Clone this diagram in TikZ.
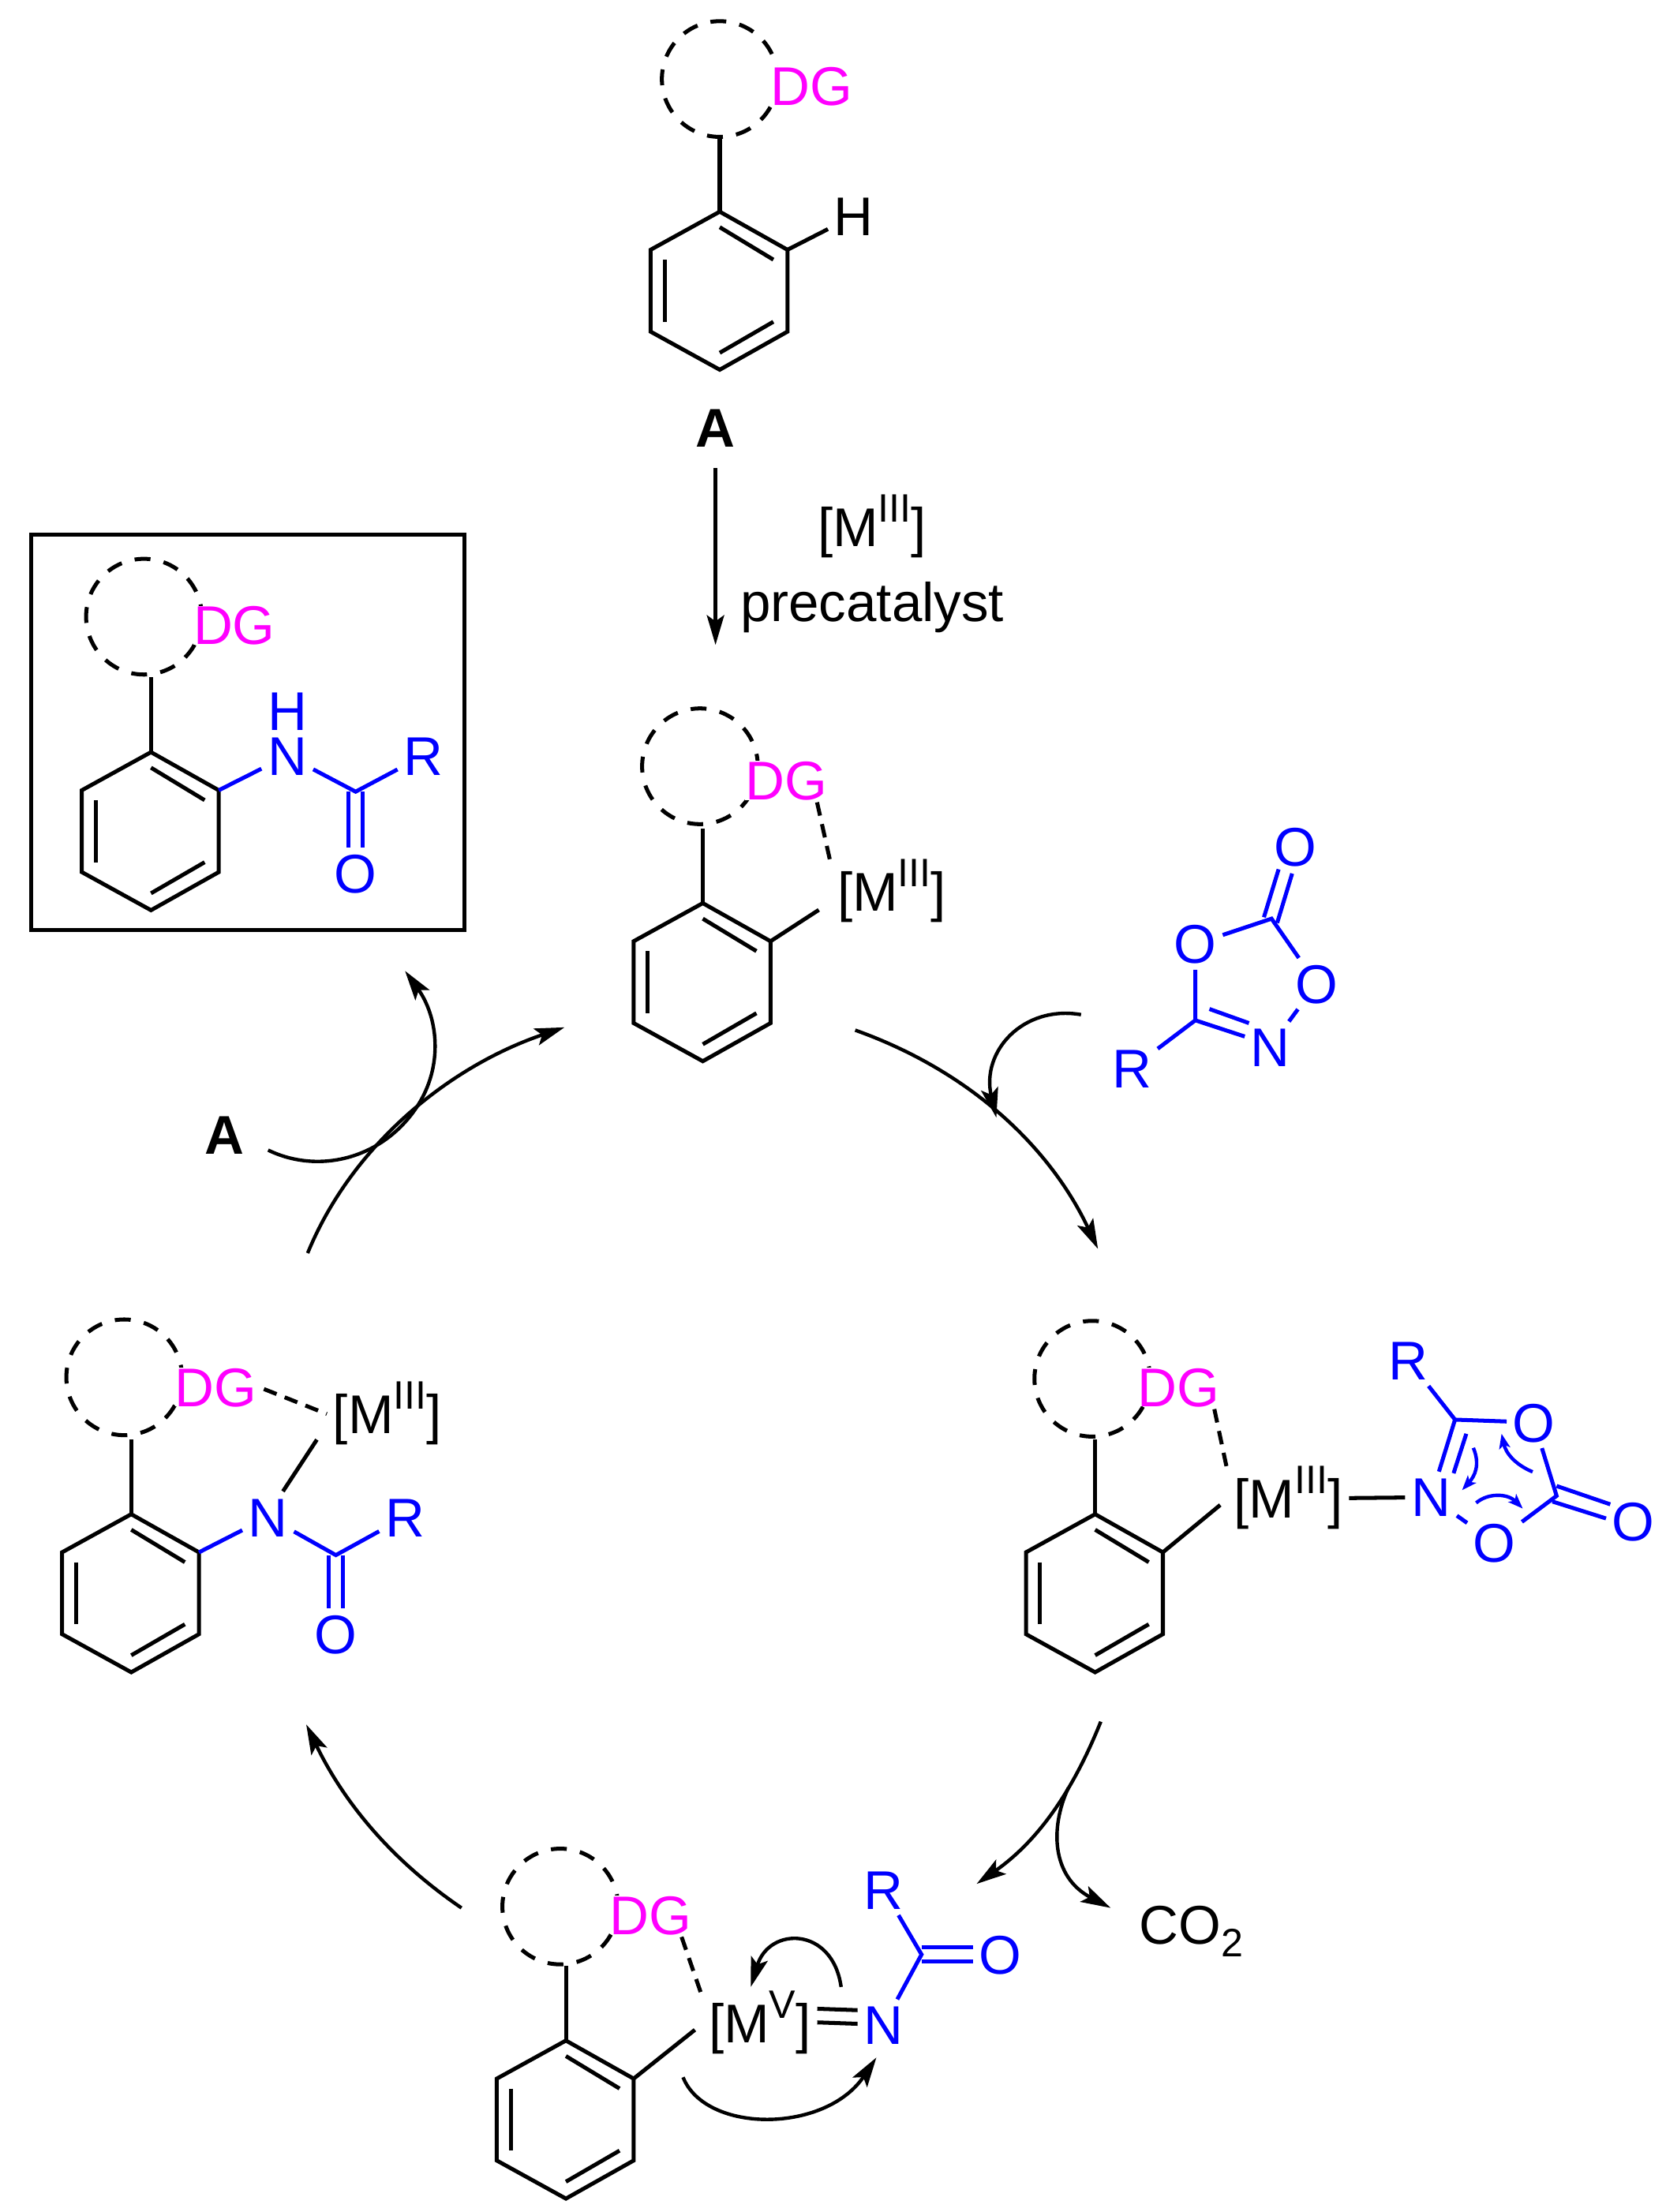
\documentclass[tikz,border=0pt]{standalone}
\usepackage{fontspec}
\setmainfont{Liberation Sans}
\usetikzlibrary{arrows.meta}
\definecolor{reagent}{HTML}{0000FF}
\definecolor{dgpink}{HTML}{FF00FF}
\newcommand{\metal}[1]{[M\raisebox{10pt}[0pt][0pt]{\fontsize{16}{16}\selectfont #1}]}

\begin{document}
\begin{tikzpicture}[
  x=0.02cm, y=-0.02cm,
  every node/.style={font=\fontsize{22}{24}\selectfont},
  bond/.style={line width=1.6pt, line join=miter},
  bluebond/.style={bond, reagent},
  dashbond/.style={bond, dash pattern=on 5.5pt off 3.5pt},
  ringline/.style={line width=1.6pt, dash pattern=on 6.4pt off 5.4pt},
  atom/.style={inner sep=1pt, outer sep=1.5pt, text height=15.7pt, text depth=0pt},
  blueatom/.style={atom, text=reagent},
  dg/.style={atom, text=dgpink, fill=white, inner sep=0pt, outer sep=1pt},
  arr/.style={-{Stealth[length=12pt, width=7pt, inset=2.5pt]}, line width=1.4pt},
  smallarr/.style={-{Stealth[length=6pt, width=4.5pt, inset=1.5pt]}, line width=1.4pt, reagent},
  arene/.pic={
    \coordinate (-ur) at (48,27);
    \draw[bond] (0,0) -- (48,27) -- (48,85) -- (0,112) -- (-49,85) -- (-49,27) -- cycle;
    \draw[bond] (0,11) -- (38,34);
    \draw[bond] (38,78) -- (0,100);
    \draw[bond] (-39,34) -- (-39,78);
    \draw[bond] (0,0) -- (0,-53);
    \draw[ringline] (#1) circle[radius=41];
  }
]
  \useasboundingbox (0,0) rectangle (1180,1567.5);

  % the six arenes
  \pic (molA) at (510,150) {arene={0,-94}};
  \pic (molCat) at (498,640) {arene={-2,-97}};
  \pic (molRight) at (776,1073) {arene={-2,-96}};
  \pic (molBottom) at (401,1446) {arene={-4,-95}};
  \pic (molLeft) at (93,1073) {arene={-5,-97}};
  \pic (molBox) at (107,533) {arene={-5,-96}};
  \node[dg] (topDG) at (575,61) {DG};
  \node[dg] (catDG) at (557,553) {DG};
  \node[dg] (rightDG) at (835,983) {DG};
  \node[dg] (bottomDG) at (461,1357) {DG};
  \node[dg] (leftDG) at (153,983) {DG};
  \node[dg] (boxDG) at (166,443) {DG};

  % substrate
  \node[atom] (topH) at (605,153) {H};
  \draw[bond] (molA-ur) -- (topH);
  \node[atom, font=\fontsize{22}{24}\selectfont\bfseries] (labelA) at (507,303) {A};
  \coordinate (preEnd) at (507,457);
  \draw[arr, shorten <=6pt] (labelA) -- (preEnd);
  \node[atom] (preM) at (618,373.5) {\metal{III}};
  \node[anchor=base, inner sep=0pt] (preText) at (618,440.5) {precatalyst};

  % product in the frame
  \draw[line width=1.5pt] (22,379) rectangle (329,659);
  \node[blueatom, inner sep=0pt, outer sep=2.5pt] (boxN) at (203.6,535.5) {N};
  \node[blueatom, inner sep=0pt, outer sep=0pt] (boxH) at (203.6,503.5) {H};
  \node[blueatom] (boxR) at (300,535.5) {R};
  \node[blueatom] (boxO) at (252,619) {O};
  \coordinate (boxC) at (252,561);
  \draw[bluebond] (molBox-ur) -- (boxN);
  \draw[bluebond] (boxN) -- (boxC) -- (boxR);
  \draw[bluebond] ([xshift=-2.8pt]boxC) -- ([xshift=-2.8pt]boxO.north);
  \draw[bluebond] ([xshift=2.8pt]boxC) -- ([xshift=2.8pt]boxO.north);

  % catalyst
  \node[atom] (catM) at (632,632) {\metal{III}};
  \draw[bond, shorten >=6pt] (molCat-ur) -- ([yshift=-4pt]catM.west);
  \draw[dashbond] ([xshift=-5pt]catDG.south east) -- (catM.north west);

  % dioxazolone
  \node[blueatom] (oxO) at (918,600) {O};
  \node[blueatom] (oxOa) at (847,669) {O};
  \node[blueatom] (oxOb) at (933,697) {O};
  \node[blueatom] (oxN) at (900,742) {N};
  \node[blueatom] (oxR) at (802,757) {R};
  \coordinate (oxCa) at (847,723);
  \coordinate (oxCb) at (901,651);
  \draw[bluebond] (oxR) -- (oxCa) -- (oxOa);
  \draw[bluebond] (oxOa) -- (oxCb) -- (oxOb) -- (oxN);
  \draw[bluebond] (oxCa) -- (882,734.5);
  \draw[bluebond] (857,715) -- (885,725);
  \draw[bluebond] (895.6,650) -- (906,616);
  \draw[bluebond] (905,654) -- (915.6,619);

  % coordinated dioxazolone
  \node[atom] (rightM) at (913,1062) {\metal{III}};
  \node[blueatom] (rightN) at (1014,1061) {N};
  \node[blueatom] (rightR) at (998,964) {R};
  \node[blueatom] (rightOa) at (1087,1008) {O};
  \node[blueatom] (rightOb) at (1059,1093) {O};
  \node[blueatom] (rightO) at (1157,1078) {O};
  \coordinate (rightCa) at (1031,1006);
  \coordinate (rightCb) at (1103,1060);
  \draw[bond, shorten >=4pt] (molRight-ur) -- (rightM.west);
  \draw[dashbond] ([xshift=-3pt]rightDG.south east) -- (rightM.north west);
  \draw[bond] (rightM) -- (rightN);
  \draw[bluebond] (rightR) -- (rightCa) -- (rightOa);
  \draw[bluebond] (rightCa) -- (rightN);
  \draw[bluebond] (1039,1016) -- (1030,1044);
  \draw[bluebond] (rightN) -- (rightOb) -- (rightCb) -- (rightOa);
  \draw[bluebond] (1103,1053) -- (1141,1066);
  \draw[bluebond] (1100,1064) -- (1138,1076);
  \draw[smallarr] (1044,1026) .. controls (1049,1038) and (1045,1046) .. (1036,1056);
  \draw[smallarr] (1086,1043) .. controls (1074,1038) and (1067,1030) .. (1064,1016);
  \draw[smallarr] (1046,1065) .. controls (1054,1058) and (1068,1058) .. (1079,1069);

  % nitrene complex
  \node[atom] (bottomM) at (538.5,1434) {\metal{V}};
  \node[blueatom] (bottomN) at (626,1435) {N};
  \node[blueatom] (bottomR) at (626,1339) {R};
  \node[blueatom] (bottomO) at (709,1385) {O};
  \coordinate (bottomC) at (653,1385);
  \draw[bond, shorten >=4pt] (molBottom-ur) -- (bottomM.west);
  \draw[dashbond] ([xshift=-5pt]bottomDG.south east) -- (bottomM.north west);
  \draw[bond] ([yshift=6pt]bottomM.east) -- ([yshift=6pt]bottomN.west);
  \draw[bond] ([yshift=0.5pt]bottomM.east) -- ([yshift=0.5pt]bottomN.west);
  \draw[bluebond] (bottomN) -- (bottomC) -- (bottomR);
  \draw[bluebond] ([yshift=3pt]bottomC) -- ([yshift=3pt]bottomO.west);
  \draw[bluebond] ([yshift=-2.7pt]bottomC) -- ([yshift=-2.7pt]bottomO.west);
  \coordinate (curlA) at (596,1408);
  \coordinate (curlB) at (532,1408);
  \coordinate (curlC) at (484,1472);
  \coordinate (curlD) at (621,1458);
  \draw[arr] (curlA) .. controls (590,1365) and (545,1365) .. (curlB);
  \draw[arr] (curlC) .. controls (500,1512) and (585,1512) .. (curlD);

  % amido complex
  \node[atom] (leftM) at (274.5,1002) {\metal{III}};
  \node[blueatom] (leftN) at (190,1075) {N};
  \node[blueatom] (leftR) at (287,1075) {R};
  \node[blueatom] (leftO) at (238,1158) {O};
  \coordinate (leftC) at (238,1102);
  \draw[dashbond, shorten <=2pt] (leftDG.east) -- (leftM.west);
  \draw[bond] (leftN.60) -- ([xshift=-4pt]leftM.south west);
  \draw[bluebond] (molLeft-ur) -- (leftN);
  \draw[bluebond] (leftN) -- (leftC) -- (leftR);
  \draw[bluebond] ([xshift=-2.8pt]leftC) -- ([xshift=-2.8pt]leftO.north);
  \draw[bluebond] ([xshift=2.8pt]leftC) -- ([xshift=2.8pt]leftO.north);

  % cycle arrows
  \coordinate (catOut) at (606,730);
  \coordinate (rightIn) at (778,885);
  \coordinate (oxOut) at (766,719);
  \coordinate (oxIn) at (706,792);
  \coordinate (rightOut) at (780,1220);
  \coordinate (bottomIn) at (692,1335);
  \coordinate (loss) at (757,1267);
  \coordinate (lossEnd) at (787,1352);
  \coordinate (bottomOut) at (327,1352);
  \coordinate (leftIn) at (217,1222);
  \coordinate (leftOut) at (218,888);
  \coordinate (catIn) at (400,728);
  \coordinate (sideOut) at (190,815);
  \coordinate (sideMid) at (295,785);
  \coordinate (boxIn) at (287,688);
  \node[atom] (co2) at (844,1364) {CO\raisebox{-5pt}[0pt][0pt]{\fontsize{16}{16}\selectfont 2}};
  \node[atom, font=\fontsize{22}{24}\selectfont\bfseries] (sideA) at (159,804) {A};
  \draw[arr] (catOut) .. controls (690,760) and (745,815) .. (rightIn);
  \draw[arr] (oxOut) .. controls (725,712) and (695,745) .. (oxIn);
  \draw[arr] (rightOut) .. controls (760,1270) and (735,1305) .. (bottomIn);
  \draw[arr] (loss) .. controls (744,1295) and (745,1330) .. (lossEnd);
  \draw[arr] (bottomOut) .. controls (280,1320) and (245,1280) .. (leftIn);
  \draw[arr] (leftOut) .. controls (250,810) and (320,755) .. (catIn);
  \draw[arr] (sideOut) .. controls (225,832) and (270,822) .. (sideMid) .. controls (315,755) and (310,720) .. (boxIn);
\end{tikzpicture}
\end{document}
